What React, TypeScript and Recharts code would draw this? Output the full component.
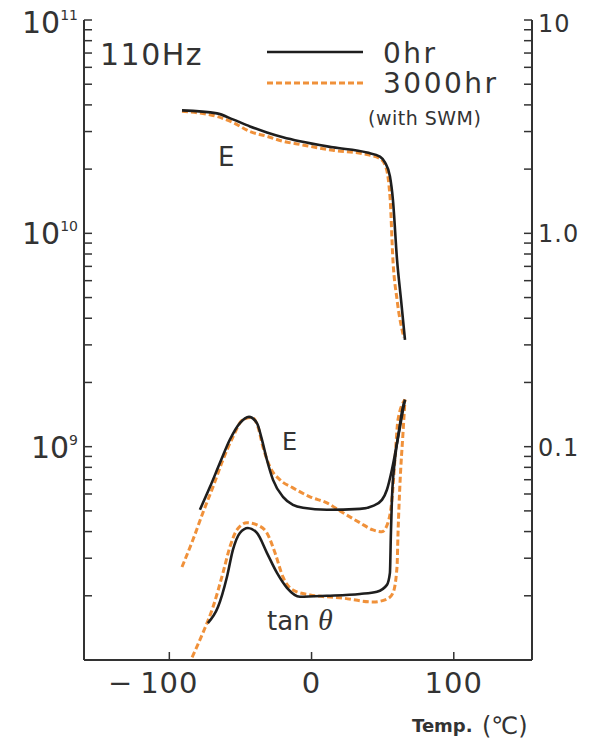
import { LineChart, Line, XAxis, YAxis } from 'recharts';

// E' (storage modulus, Pa)
const tempStorage0hr = [-91.1, -66.5, -55.3, -43.3, -31.4, -20.1, -8.2, 15.0, 39.0, 48.1, 51.6, 55.1, 57.2, 60.1, 62.9, 65.7];
const storage0hr = [3.77e10, 3.65e10, 3.42e10, 3.17e10, 2.97e10, 2.82e10, 2.7e10, 2.53e10, 2.39e10, 2.29e10, 2.15e10, 1.85e10, 1.44e10, 7.53e9, 4.89e9, 3.17e9];
const tempStorage3000hr = [-91.1, -66.5, -55.3, -43.3, -31.4, -20.1, -8.2, 15.0, 39.0, 48.1, 52.3, 54.4, 55.3, 57.2, 60.1, 64.9];
const storage3000hr = [3.73e10, 3.53e10, 3.31e10, 3.0e10, 2.85e10, 2.7e10, 2.61e10, 2.45e10, 2.34e10, 2.24e10, 2.04e10, 1.69e10, 1.44e10, 7.53e9, 4.89e9, 3.24e9];

// E'' (loss modulus, Pa)
const tempLoss0hr = [-78.5, -71.4, -64.4, -57.4, -50.4, -44.0, -38.4, -34.9, -31.4, -27.1, -20.1, -13.1, -6.0, 10.8, 34.0, 43.2, 49.5, 53.0, 56.5, 60.1, 64.3, 65.7];
const loss0hr = [5.06e8, 6.48e8, 8.4e8, 1.08e9, 1.29e9, 1.38e9, 1.29e9, 1.08e9, 8.68e8, 6.99e8, 5.82e8, 5.34e8, 5.17e8, 5.06e8, 5.11e8, 5.28e8, 5.63e8, 6.28e8, 7.79e8, 1.04e9, 1.54e9, 1.66e9];
const tempLoss3000hr = [-91.1, -83.4, -76.4, -69.3, -62.3, -55.3, -48.2, -41.9, -37.7, -34.2, -29.3, -22.2, -13.1, -1.1, 10.8, 22.1, 34.0, 43.2, 49.5, 53.7, 56.5, 58.6, 60.8, 65.7];
const loss3000hr = [2.73e8, 3.66e8, 4.9e8, 6.48e8, 8.68e8, 1.11e9, 1.34e9, 1.37e9, 1.24e9, 9.99e8, 8.05e8, 6.99e8, 6.41e8, 5.82e8, 5.45e8, 4.9e8, 4.4e8, 4.07e8, 3.99e8, 4.4e8, 5.63e8, 8.68e8, 1.34e9, 1.66e9];

// tan θ (right axis)
const tempTan0hr = [-72.9, -65.8, -59.5, -55.3, -50.4, -44.7, -38.4, -31.4, -24.3, -17.3, -8.2, 10.8, 34.0, 46.0, 53.0, 55.1, 55.8, 56.5, 58.6, 62.2, 65.7];
const tan0hr = [0.0149, 0.0177, 0.0245, 0.0328, 0.0394, 0.0416, 0.0394, 0.0318, 0.0256, 0.0218, 0.0198, 0.02, 0.0204, 0.0209, 0.0225, 0.0256, 0.0394, 0.0563, 0.0868, 0.124, 0.166];
const tempTan3000hr = [-84.0, -76.4, -69.3, -62.3, -57.4, -52.5, -45.4, -38.4, -31.4, -25.7, -20.1, -13.1, -1.1, 22.1, 43.2, 53.0, 57.2, 60.1, 60.8, 62.2, 64.3, 65.7];
const tan3000hr = [0.0103, 0.0134, 0.0177, 0.0256, 0.0339, 0.0407, 0.044, 0.043, 0.0394, 0.0318, 0.0245, 0.0213, 0.0202, 0.0195, 0.0187, 0.0193, 0.0206, 0.0273, 0.0394, 0.0677, 0.116, 0.166];

const xTicks = [-100, 0, 100];
const leftTicks = [8, 9, 10].flatMap((e) => [1, 2, 3, 4, 5, 6, 7, 8, 9].map((m) => m * 10 ** e)).concat([1e11]);
const rightTicks = [-2, -1, 0].flatMap((e) => [1, 2, 3, 4, 5, 6, 7, 8, 9].map((m) => Number((m * 10 ** e).toPrecision(3)))).concat([10]);
const rightLabels: Record<string, string> = { '10': '10', '1': '1.0', '0.1': '0.1' };

const FONT = "'DejaVu Sans', sans-serif";
const INK = '#333';
const ORANGE = '#f0913a';
const BLACK = '#1e1e1e';

const zip = (t: number[], v: number[]) => t.map((x, i) => ({ t: x, v: v[i] }));

const isMajor = (v: number) => Math.abs(Math.log10(v) - Math.round(Math.log10(v))) < 1e-6;

const LeftTick = (props: any) => {
  const { x, y, payload } = props;
  const v = payload.value;
  const exp = Math.round(Math.log10(v));
  const major = isMajor(v);
  const base = y + (exp === 11 ? 13 : 11);
  return (
    <g>
      <line x1={x} x2={x + 8} y1={y} y2={y} stroke={INK} strokeWidth={1.5} />
      {major && exp > 8 && (
        <text x={x - 6} y={base} textAnchor="end" fill={INK} fontFamily={FONT} fontSize={30}>
          10
          <tspan dy={-13} fontSize={14}>{exp}</tspan>
        </text>
      )}
    </g>
  );
};

const RightTick = (props: any) => {
  const { x, y, payload } = props;
  const label = rightLabels[String(payload.value)];
  return (
    <g>
      <line x1={x - 8} x2={x} y1={y} y2={y} stroke={INK} strokeWidth={1.5} />
      {label && (
        <text x={x + 6} y={y + (payload.value === 10 ? 12 : 9)} textAnchor="start" fill={INK} fontFamily={FONT} fontSize={24} letterSpacing={1}>
          {label}
        </text>
      )}
    </g>
  );
};

const BottomTick = (props: any) => {
  const { x, y, payload } = props;
  const v = payload.value;
  return (
    <g fill={INK} fontFamily={FONT} fontSize={29}>
      <line x1={x} x2={x} y1={y - 8} y2={y} stroke={INK} strokeWidth={1.5} />
      <text x={x} y={y + 33} textAnchor="middle" letterSpacing={1}>
        {Math.abs(v)}
      </text>
      {v < 0 && (
        <text x={x - 37} y={y + 33} textAnchor="end">
          {'\u2212'}
        </text>
      )}
    </g>
  );
};

export default function App() {
  const lineProps = { type: 'monotone' as const, dataKey: 'v', dot: false, isAnimationActive: false };
  const dashed = { stroke: ORANGE, strokeDasharray: '6 3', strokeWidth: 3 };
  const solid = { stroke: BLACK, strokeWidth: 2.6 };
  return (
    <div style={{ position: 'relative', width: 590, height: 750, margin: -8 }}>
      <LineChart width={590} height={742} margin={{ top: 20, right: 18, bottom: 42, left: 24 }}>
        <XAxis
          dataKey="t"
          type="number"
          domain={[-160, 155]}
          ticks={xTicks}
          allowDataOverflow
          height={40}
          tickSize={0}
          tickMargin={0}
          tick={<BottomTick />}
          axisLine={{ stroke: INK, strokeWidth: 2 }}
          interval={0}
        />
        <XAxis xAxisId="top" orientation="top" type="number" domain={[-160, 155]} height={0} tick={false} tickLine={false} axisLine={{ stroke: INK, strokeWidth: 2 }} />
        <YAxis
          yAxisId="left"
          scale="log"
          type="number"
          domain={[1e8, 1e11]}
          ticks={leftTicks}
          allowDataOverflow
          width={60}
          tickSize={0}
          tickMargin={0}
          interval={0}
          tick={<LeftTick />}
          axisLine={{ stroke: INK, strokeWidth: 2 }}
        />
        <YAxis
          yAxisId="right"
          orientation="right"
          scale="log"
          type="number"
          domain={[0.01, 10]}
          ticks={rightTicks}
          allowDataOverflow
          width={40}
          tickSize={0}
          tickMargin={0}
          interval={0}
          tick={<RightTick />}
          axisLine={{ stroke: INK, strokeWidth: 2 }}
        />
        <Line {...lineProps} {...dashed} yAxisId="left" data={zip(tempStorage3000hr, storage3000hr)} />
        <Line {...lineProps} {...solid} yAxisId="left" data={zip(tempStorage0hr, storage0hr)} />
        <Line {...lineProps} {...dashed} yAxisId="left" data={zip(tempLoss3000hr, loss3000hr)} />
        <Line {...lineProps} {...solid} yAxisId="left" data={zip(tempLoss0hr, loss0hr)} />
        <Line {...lineProps} {...dashed} yAxisId="right" data={zip(tempTan3000hr, tan3000hr)} />
        <Line {...lineProps} {...solid} yAxisId="right" data={zip(tempTan0hr, tan0hr)} />
      </LineChart>
      <svg width={590} height={750} style={{ position: 'absolute', left: 0, top: 0, pointerEvents: 'none' }}>
        <g fill={INK} fontFamily={FONT} transform="translate(8,8)">
          <text x={92} y={57} fontSize={30} letterSpacing={1.5}>110Hz</text>
          <line x1={259} x2={355} y1={44} y2={44} stroke={BLACK} strokeWidth={2.6} />
          <text x={375} y={55} fontSize={28} letterSpacing={2.5}>0hr</text>
          <line x1={259} x2={355} y1={75} y2={75} stroke={ORANGE} strokeWidth={3} strokeDasharray="6 3" />
          <text x={375} y={85} fontSize={28} letterSpacing={2.5}>3000hr</text>
          <text x={360} y={117} fontSize={19} letterSpacing={0.5}>(with SWM)</text>
          <text x={210} y={158} fontSize={26}>E</text>
          <text x={274} y={442} fontSize={24}>E</text>
          <text x={259} y={622} fontSize={26}>
            tan <tspan fontFamily="'Liberation Serif', serif" fontStyle="italic" fontSize={30}>θ</tspan>
          </text>
          <text x={404} y={724} fontSize={18} fontWeight="bold">Temp.</text>
          <text x={474} y={726} fontSize={24}>(℃)</text>
        </g>
      </svg>
    </div>
  );
}
